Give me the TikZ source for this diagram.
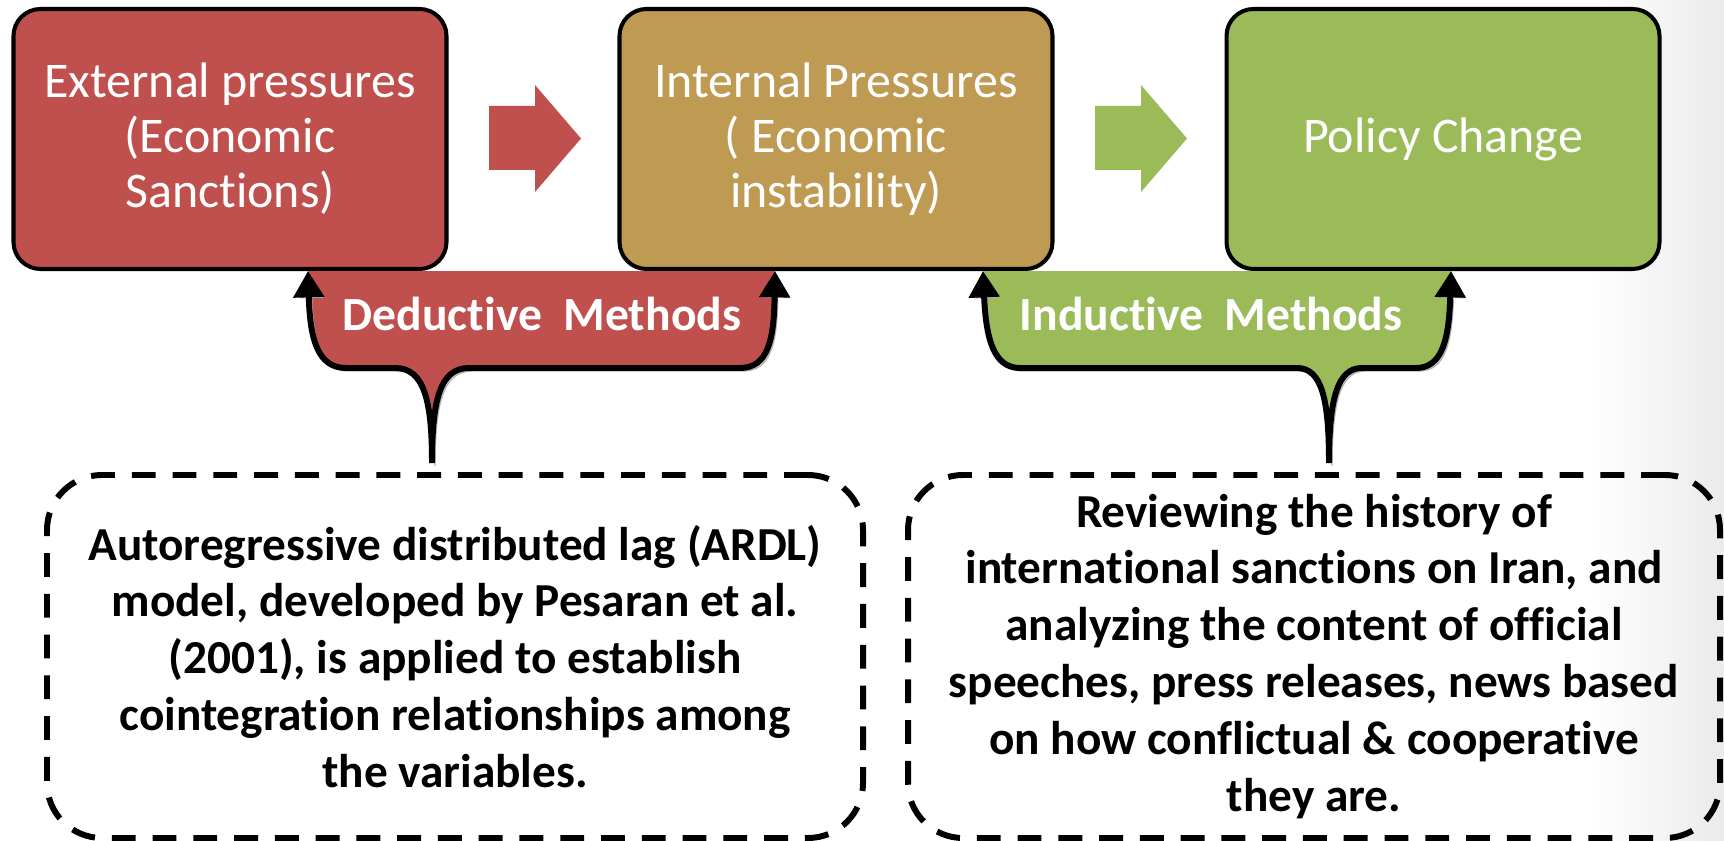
\documentclass[tikz,border=0pt]{standalone}
\usepackage{fontspec}
\setmainfont{Carlito}[Ligatures=NoCommon]
\usetikzlibrary{arrows.meta}

\definecolor{exred}{RGB}{192,80,77}
\definecolor{ingold}{RGB}{191,154,82}
\definecolor{pcgreen}{RGB}{155,187,89}

\begin{document}
\begin{tikzpicture}[
	stage/.style={draw=black, line width=1.15pt, rounded corners=0.27cm, minimum width=4.33cm, minimum height=2.6cm, align=center, text=white, font=\fontsize{14.2}{15.65}\selectfont},
	method/.style={draw=black, line width=1.7pt, dash pattern=on 6.8pt off 4.8pt, rounded corners=0.55cm, minimum height=3.63cm, align=center, font=\bfseries\fontsize{13.46}{16.2}\selectfont},
	tag/.style={text=white, anchor=base, font=\bfseries\fontsize{13.55}{16}\selectfont},
	brace/.style={line width=1.7pt, {Triangle[width=8.5pt,length=7.5pt]}-{Triangle[width=8.5pt,length=7.5pt]},
		preaction={draw=black!30, transform canvas={shift={(0.03,-0.03)}}}}]
\useasboundingbox (0,0) rectangle (17.24,-8.41);
\shade[left color=white, right color=black!8] (15.9,0) rectangle (17.24,-8.41);

\path (2.30,-1.39) node[stage, fill=exred] (ext) {External pressures\\(Economic\\Sanctions)}
		(8.36,-1.39) node[stage, fill=ingold] (int) {Internal Pressures\\( Economic\\instability)}
		(14.43,-1.39) node[stage, fill=pcgreen] (pol) {Policy Change}
		(4.55,-6.565) node[method, minimum width=8.16cm] (dedbox) {Autoregressive distributed lag (ARDL)\\model, developed by Pesaran et al.\\(2001), is applied to establish\\cointegration relationships among\\the variables.}
		(13.14,-6.565) node[method, minimum width=8.12cm] (indbox) {Reviewing the history of\\international sanctions on Iran, and\\analyzing the content of official\\speeches, press releases, news based\\on how conflictual \& cooperative\\they are.};

% block arrows between the stages
\fill[exred] (4.89,-1.06) -- (5.35,-1.06) -- (5.35,-0.85) -- (5.81,-1.385) -- (5.35,-1.92) -- (5.35,-1.70) -- (4.89,-1.70) -- cycle;
\fill[pcgreen] (10.95,-1.06) -- (11.41,-1.06) -- (11.41,-0.85) -- (11.87,-1.385) -- (11.41,-1.92) -- (11.41,-1.70) -- (10.95,-1.70) -- cycle;

% deductive brace
\fill[exred] (ext.south -| 3.08,0) .. controls (3.10,-3.40) and (3.18,-3.68) .. (3.46,-3.68) -- (3.95,-3.68) .. controls (4.24,-3.68) and (4.32,-4.00) .. (4.32,-4.63) .. controls (4.32,-4.00) and (4.40,-3.68) .. (4.69,-3.68) -- (7.40,-3.68) .. controls (7.68,-3.68) and (7.74,-3.40) .. (int.south -| 7.75,0) -- cycle;
\draw[brace] (ext.south -| 3.08,0) .. controls (3.10,-3.40) and (3.18,-3.68) .. (3.46,-3.68) -- (3.95,-3.68) .. controls (4.24,-3.68) and (4.32,-4.00) .. (4.32,-4.63) .. controls (4.32,-4.00) and (4.40,-3.68) .. (4.69,-3.68) -- (7.40,-3.68) .. controls (7.68,-3.68) and (7.74,-3.40) .. (int.south -| 7.75,0);

% inductive brace
\fill[pcgreen] (int.south -| 9.83,0) .. controls (9.86,-3.40) and (9.94,-3.68) .. (10.20,-3.68) -- (12.97,-3.68) .. controls (13.22,-3.68) and (13.29,-4.00) .. (13.29,-4.63) .. controls (13.29,-4.00) and (13.37,-3.68) .. (13.62,-3.68) -- (14.16,-3.68) .. controls (14.42,-3.68) and (14.49,-3.40) .. (pol.south -| 14.51,0) -- cycle;
\draw[brace] (int.south -| 9.83,0) .. controls (9.86,-3.40) and (9.94,-3.68) .. (10.20,-3.68) -- (12.97,-3.68) .. controls (13.22,-3.68) and (13.29,-4.00) .. (13.29,-4.63) .. controls (13.29,-4.00) and (13.37,-3.68) .. (13.62,-3.68) -- (14.16,-3.68) .. controls (14.42,-3.68) and (14.49,-3.40) .. (pol.south -| 14.51,0);

\path (5.42,-3.31) node[tag] (ded) {Deductive\ \ Methods}
		(12.11,-3.31) node[tag] (ind) {Inductive\ \ Methods};

\end{tikzpicture}
\end{document}
